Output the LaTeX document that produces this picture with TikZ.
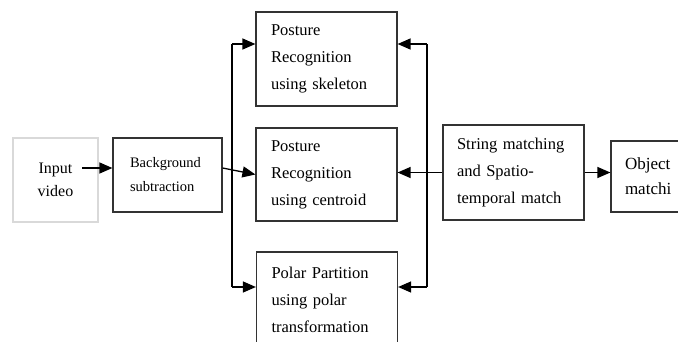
\documentclass[tikz,border=0pt]{standalone}
\usepackage{fontspec}
\setmainfont{Liberation Serif}
\usetikzlibrary{arrows.meta}

\tikzset{
  box/.style={draw=black!80, line width=1.2pt, inner ysep=0pt, align=left,
    font=\fontsize{16.5}{27}\selectfont},
  arr/.style={line width=1.3pt, -{Triangle[length=13pt,width=11pt]}},
  bus/.style={line width=1.3pt}
}

\begin{document}
\begin{tikzpicture}[x=1pt,y=-1pt]
\useasboundingbox (0,0) rectangle (678,341);

\node[box, draw=black!15, align=center, minimum width=85pt, minimum height=84pt,
  font=\fontsize{16}{23}\selectfont] (input) at (55.5,180) {Input\\video};
\node[box, inner xsep=17pt, text width=75pt, minimum height=74pt,
  font=\fontsize{14.5}{24}\selectfont] (bg) at (167.5,175) {Background\\subtraction};

\node[box, inner xsep=15pt, text width=111pt, minimum height=94pt] (top) at (326.5,59)
  {Posture\\Recognition\\using skeleton};
\node[box, inner xsep=15pt, text width=111pt, minimum height=93pt] (mid) at (326.5,174.5)
  {Posture\\Recognition\\using centroid};
\node[box, inner xsep=15pt, text width=111pt, minimum height=96pt] (bot) at (327,300)
  {Polar Partition\\using polar\\transformation};

\node[box, inner xsep=14pt, text width=113pt, minimum height=95pt] (string) at (513.5,172.5)
  {String matching\\and Spatio-\\temporal match};
\node[box, inner xsep=14pt, text width=51pt, minimum height=71pt,
  font=\fontsize{17}{25}\selectfont] (obj) at (650.5,176.5) {Object\\matchi};

% input to background
\coordinate (in1) at (82,168);
\draw[arr] (in1) -- (bg.west |- in1);
\draw[arr] ([yshift=7pt]bg.east) -- (mid.west);

% left bus
\coordinate (l1) at (232,44);
\coordinate (l3) at (232,287);
\draw[bus] (l1) -- (l3);
\draw[arr] (l1) -- (top.west |- l1);
\draw[arr] (l3) -- (bot.west |- l3);

% right bus
\coordinate (r1) at (427,44);
\coordinate (r3) at (427,287);
\draw[bus] (r1) -- (r3);
\draw[arr] (r1) -- (top.east |- r1);
\draw[arr] (r3) -- (bot.east |- r3);
\draw[arr] (string.west) -- (mid.east |- string.west);

\draw[arr] (string.east) -- (obj.west |- string.east);
\end{tikzpicture}
\end{document}
